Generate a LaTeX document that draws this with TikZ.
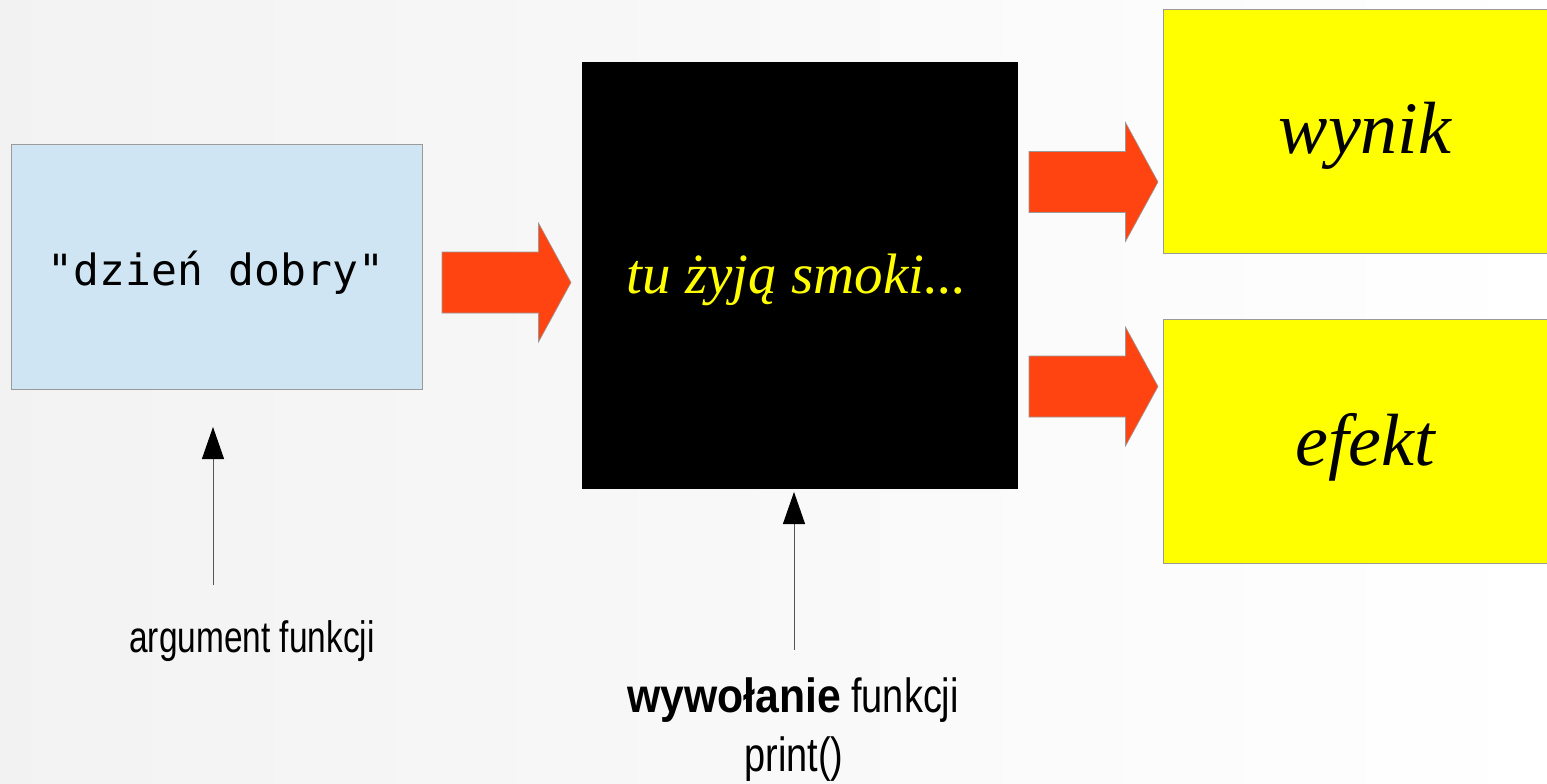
\documentclass[tikz,border=0pt]{standalone}
\usepackage{fontspec}
\setmainfont{Liberation Serif}
\newfontfamily\codefont{DejaVu Sans Mono}
\newfontfamily\labelfont[FakeStretch=0.76]{Liberation Sans}
\newfontfamily\calllabelfont[FakeStretch=0.79]{Liberation Sans}
\newfontfamily\labelbold[FakeStretch=0.89]{Liberation Sans Bold}
\usetikzlibrary{arrows.meta}

\definecolor{argblue}{HTML}{CFE5F3}
\definecolor{outyellow}{HTML}{FFFF00}
\definecolor{flowred}{HTML}{FF4411}
\definecolor{edgegray}{HTML}{9A9A9A}
\definecolor{pointergray}{HTML}{555555}

\tikzset{
  panel/.style={draw=edgegray, line width=0.8pt, inner sep=0pt, outer sep=0pt},
  pointer/.style={draw=pointergray, line width=1pt,
    -{Triangle[width=22pt,length=32pt,color=black]}},
  caption/.style={font=\labelfont\fontsize{44}{52}\selectfont, text=black,
    anchor=base, inner sep=0pt},
  bigcaption/.style={caption, font=\calllabelfont\fontsize{48}{56}\selectfont},
  pics/blockarrow/.style={code={
    \filldraw[fill=flowred, draw=edgegray, line width=0.6pt]
      (0,-30.5) -- (96.5,-30.5) -- (96.5,-59.5) -- (129,0)
      -- (96.5,59.5) -- (96.5,30.5) -- (0,30.5) -- cycle;}}
}

\begin{document}
\begin{tikzpicture}[x=1pt,y=-1pt]
  % backdrop
  \shade[left color=black!5, right color=white]
    (0,0) rectangle (1547,784);
  \useasboundingbox (0,0) rectangle (1547,784);

  % argument box
  \node[panel, fill=argblue, minimum width=411pt, minimum height=245pt]
    (arg) at (216.5,266.5) {};
  \node[font=\codefont\fontsize{43}{50}\selectfont, anchor=base, inner sep=0pt]
    (argtext) at (216,285) {"dzień dobry"};

  % the function itself
  \node[draw=black, fill=black, minimum width=435pt, minimum height=426pt,
        inner sep=0pt, outer sep=0pt] (func) at (799.5,275) {};
  \node[font=\itshape\fontsize{57}{66}\selectfont, text=outyellow,
        anchor=base, inner sep=0pt] (functext) at (797,293) {tu żyją smoki...};

  % outputs
  \node[panel, fill=outyellow, minimum width=404pt, minimum height=244pt]
    (result) at (1365,131) {};
  \node[font=\itshape\fontsize{74}{82}\selectfont, anchor=base, inner sep=0pt]
    (resulttext) at (1365,153) {wynik};
  \node[panel, fill=outyellow, minimum width=404pt, minimum height=244pt]
    (effect) at (1365,441) {};
  \node[font=\itshape\fontsize{74}{82}\selectfont, anchor=base, inner sep=0pt]
    (effecttext) at (1365,465) {efekt};

  % flow arrows
  \coordinate (flowA) at (442,282.5);
  \coordinate (flowB) at (1029,182);
  \coordinate (flowC) at (1029,386.5);
  \pic at (flowA) {blockarrow};
  \pic at (flowB) {blockarrow};
  \pic at (flowC) {blockarrow};

  % captions and pointers
  \node[caption] (argcap) at (252,652) {argument funkcji};
  \node[bigcaption] (callcap) at (793,712)
    {{\labelbold wywołanie} funkcji};
  \node[bigcaption] (callcode) at (794,771) {print()};

  \coordinate (argfoot) at (213,585);
  \coordinate (arghead) at (213,427);
  \coordinate (callfoot) at (794,650);
  \coordinate (callhead) at (794,492);
  \draw[pointer] (argfoot) -- (arghead);
  \draw[pointer] (callfoot) -- (callhead);
\end{tikzpicture}
\end{document}
